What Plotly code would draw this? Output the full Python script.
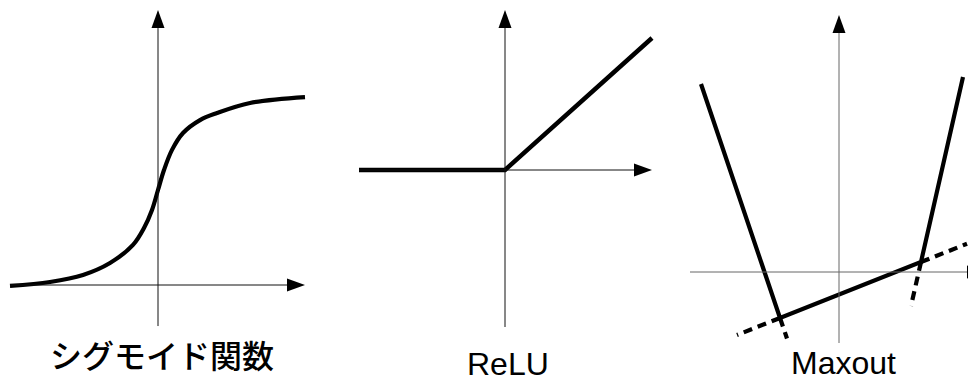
import plotly.graph_objects as go

W, H = 968, 382

# ---------------- data ----------------
sig_x = [-2.96, -2.16, -1.5, -0.96, -0.5, -0.28, -0.12, 0.0, 0.12, 0.28, 0.5, 0.84, 1.18, 1.84, 2.94]
sig_y = [-0.005, 0.016, 0.053, 0.116, 0.211, 0.3, 0.395, 0.5, 0.605, 0.711, 0.8, 0.868, 0.905, 0.958, 0.989]

relu_x = [-2.92, 0.0, 2.94]
relu_y = [0.0, 0.0, 2.64]

maxout_x = [-2.76, -1.18, 1.64, 2.48]
maxout_y = [3.76, -0.92, 0.2, 3.9]

# dashed continuations of the three linear pieces beyond the kinks
ext_lines = [
    ([-1.18, -2.04], [-0.92, -1.26]),
    ([-1.18, -1.04], [-0.92, -1.33]),
    ([1.64, 2.56], [0.2, 0.565]),
    ([1.64, 1.44], [0.2, -0.68]),
]

labels = ["シグモイド関数", "ReLU", "Maxout"]

# ---------------- layout of the three panels ----------------
# pixel domain, origin pixel (x, y from top), pixels per unit
panels = [
    dict(dom=(0, 330), origin=(158, 285), sx=50, sy=190,
         h=(-2.96, 2.94), v=(-0.216, 1.447), axcol="#111111",
         label_y=354, label_dx=0.08, font="Noto Sans CJK JP", weight=500),
    dict(dom=(330, 670), origin=(505, 170), sx=50, sy=50,
         h=(-2.92, 2.94), v=(-3.14, 3.2), axcol="#111111",
         label_y=364, label_dx=0.06, font="Liberation Sans", weight=400),
    dict(dom=(670, 968), origin=(839, 272), sx=50, sy=50,
         h=(-2.98, 2.92), v=(-1.42, 5.14), axcol="#666666",
         label_y=363, label_dx=0.08, font="Liberation Sans", weight=400),
]

ARROW_L, ARROW_W = 18, 13  # px

fig = go.Figure()
shapes = []
annotations = []
layout = dict(width=W, height=H, margin=dict(l=0, r=0, t=0, b=0),
              paper_bgcolor="white", plot_bgcolor="white", showlegend=False)

for i, p in enumerate(panels):
    n = "" if i == 0 else str(i + 1)
    xr, yr = "x" + n, "y" + n
    x0, x1 = p["dom"]
    ox, oy = p["origin"]
    sx, sy = p["sx"], p["sy"]
    layout["xaxis" + n] = dict(domain=[x0 / W, x1 / W],
                               range=[(x0 - ox) / sx, (x1 - ox) / sx],
                               visible=False, fixedrange=True, anchor=yr)
    layout["yaxis" + n] = dict(domain=[0, 1],
                               range=[(oy - H) / sy, oy / sy],
                               visible=False, fixedrange=True, anchor=xr)
    col = p["axcol"]
    # horizontal axis with arrow
    hs, ht = p["h"]
    hb = ht - ARROW_L / sx
    shapes.append(dict(type="line", xref=xr, yref=yr, x0=hs, y0=0, x1=hb, y1=0,
                       line=dict(color=col, width=1)))
    hw = ARROW_W / 2 / sy
    shapes.append(dict(type="path", xref=xr, yref=yr,
                       path=f"M{hb},{-hw} L{hb},{hw} L{ht},0 Z",
                       fillcolor="black", line=dict(width=0)))
    # vertical axis with arrow
    vs, vt = p["v"]
    vb = vt - ARROW_L / sy
    shapes.append(dict(type="line", xref=xr, yref=yr, x0=0, y0=vs, x1=0, y1=vb,
                       line=dict(color=col, width=1)))
    ww = ARROW_W / 2 / sx
    shapes.append(dict(type="path", xref=xr, yref=yr,
                       path=f"M{-ww},{vb} L{ww},{vb} L0,{vt} Z",
                       fillcolor="black", line=dict(width=0)))
    annotations.append(dict(text=labels[i], xref=xr, yref="paper",
                            x=p["label_dx"], y=1 - p["label_y"] / H,
                            xanchor="center", yanchor="middle", showarrow=False,
                            font=dict(family=p["font"], size=32, color="black",
                                      weight=p["weight"])))

LW = 4.2
fig.add_trace(go.Scatter(x=sig_x, y=sig_y, mode="lines", xaxis="x", yaxis="y",
                         line=dict(color="black", width=LW, shape="spline", smoothing=1.0)))
fig.add_trace(go.Scatter(x=relu_x, y=relu_y, mode="lines", xaxis="x2", yaxis="y2",
                         line=dict(color="black", width=LW + 0.3)))
for ex, ey in ext_lines:
    fig.add_trace(go.Scatter(x=ex, y=ey, mode="lines", xaxis="x3", yaxis="y3",
                             line=dict(color="black", width=LW, dash="9px,6px")))
fig.add_trace(go.Scatter(x=maxout_x, y=maxout_y, mode="lines", xaxis="x3", yaxis="y3",
                         line=dict(color="black", width=LW)))

layout["shapes"] = shapes
layout["annotations"] = annotations
fig.update_layout(**layout)
fig.write_html("out.html",
               config={"displayModeBar": False, "staticPlot": True},
               post_script="document.body.style.margin='0';document.body.style.padding='0';"
                           "document.body.style.overflow='hidden';")
